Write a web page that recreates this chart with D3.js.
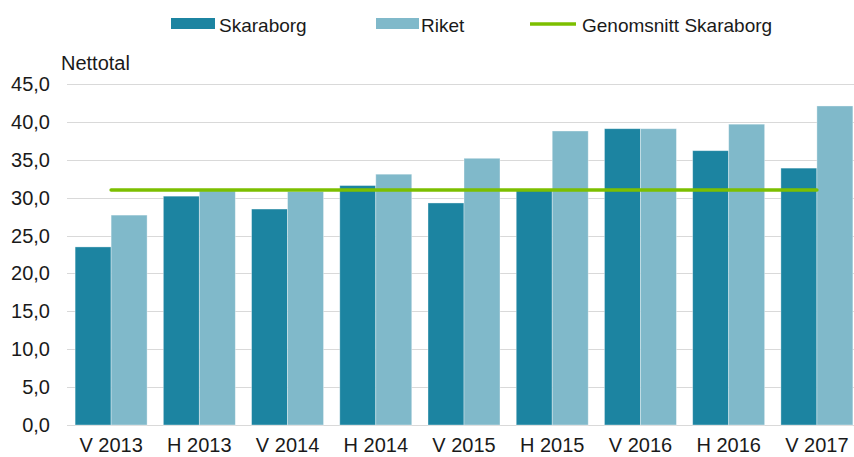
<!DOCTYPE html>
<html lang="sv">
  <head>
    <meta charset="UTF-8" />
    <title>Nettotal Skaraborg</title>
    <style>
      body { margin: 0; background: #fff; }
      text { font-family: "Liberation Sans", Arial, sans-serif; fill: #1a1a1a; }
    </style>
  </head>
  <body>
    <script src="https://d3js.org/d3.v7.min.js"></script>
    <script>
      const width = 854
      const height = 457

      // data
      const categories = ["V 2013", "H 2013", "V 2014", "H 2014", "V 2015", "H 2015", "V 2016", "H 2016", "V 2017"]
      const skaraborg = [23.5, 30.2, 28.5, 31.6, 29.3, 31.0, 39.1, 36.2, 33.9]
      const riket = [27.7, 30.9, 30.8, 33.1, 35.2, 38.8, 39.1, 39.7, 42.1]
      const snittSkaraborg = 31.0
      const yTicks = [0, 5, 10, 15, 20, 25, 30, 35, 40, 45]
      const seriesNames = ["Skaraborg", "Riket"]
      const colors = { Skaraborg: "#1c84a1", Riket: "#80b9ca", snitt: "#7cbf00" }

      const svg = d3.select("body").append("svg")
        .attr("width", width)
        .attr("height", height)

      const x0 = d3.scaleBand()
        .domain(categories)
        .range([67, 861])
        .paddingInner(0.184)
        .paddingOuter(0.092)

      const x1 = d3.scaleBand()
        .domain(seriesNames)
        .range([0, x0.bandwidth()])

      const y = d3.scaleLinear()
        .domain([0, 45])
        .range([425, 84])

      // gridlines
      svg.append("g")
        .selectAll("line")
        .data(yTicks)
        .enter()
        .append("line")
        .attr("x1", 67)
        .attr("x2", width)
        .attr("y1", d => Math.round(y(d)) + 0.5)
        .attr("y2", d => Math.round(y(d)) + 0.5)
        .attr("stroke", "#d9d9d9")
        .attr("stroke-width", 1)

      // y labels
      svg.append("g")
        .selectAll("text")
        .data(yTicks)
        .enter()
        .append("text")
        .attr("x", 50)
        .attr("y", d => y(d) + 7)
        .attr("text-anchor", "end")
        .style("font-size", "20px")
        .text(d => d.toFixed(1).replace(".", ","))

      svg.append("text")
        .attr("x", 61)
        .attr("y", 70)
        .style("font-size", "20px")
        .text("Nettotal")

      // bars
      const rows = categories.map((c, i) => ({ cat: c, Skaraborg: skaraborg[i], Riket: riket[i] }))

      const groups = svg.append("g")
        .selectAll("g")
        .data(rows)
        .enter()
        .append("g")
        .attr("transform", d => `translate(${x0(d.cat)},0)`)

      groups.selectAll("rect")
        .data(d => seriesNames.map(s => ({ key: s, value: d[s] })))
        .enter()
        .append("rect")
        .attr("x", d => x1(d.key))
        .attr("y", d => y(d.value))
        .attr("width", x1.bandwidth())
        .attr("height", d => y(0) - y(d.value))
        .attr("fill", d => colors[d.key])
        .attr("stroke", "rgba(255,255,255,0.45)")
        .attr("stroke-width", 0.8)

      // average line
      const first = categories[0]
      const last = categories[categories.length - 1]
      svg.append("line")
        .attr("x1", x0(first) + x0.bandwidth() / 2)
        .attr("x2", x0(last) + x0.bandwidth() / 2)
        .attr("y1", y(snittSkaraborg))
        .attr("y2", y(snittSkaraborg))
        .attr("stroke", colors.snitt)
        .attr("stroke-width", 3.5)
        .attr("stroke-linecap", "round")

      // x labels
      svg.append("g")
        .selectAll("text")
        .data(categories)
        .enter()
        .append("text")
        .attr("x", d => x0(d) + x0.bandwidth() / 2)
        .attr("y", 452)
        .attr("text-anchor", "middle")
        .style("font-size", "20px")
        .text(d => d)

      // legend
      const legend = svg.append("g")
      legend.append("rect").attr("x", 171).attr("y", 18).attr("width", 44).attr("height", 11).attr("fill", colors.Skaraborg)
      legend.append("text").attr("x", 219).attr("y", 31.5).style("font-size", "19px").text("Skaraborg")
      legend.append("rect").attr("x", 376).attr("y", 18).attr("width", 43).attr("height", 11).attr("fill", colors.Riket)
      legend.append("text").attr("x", 421).attr("y", 31.5).style("font-size", "19px").text("Riket")
      legend.append("line").attr("x1", 530).attr("x2", 576).attr("y1", 24).attr("y2", 24)
        .attr("stroke", colors.snitt).attr("stroke-width", 3.5)
      legend.append("text").attr("x", 582).attr("y", 31.5).style("font-size", "19px").text("Genomsnitt Skaraborg")
    </script>
  </body>
</html>
